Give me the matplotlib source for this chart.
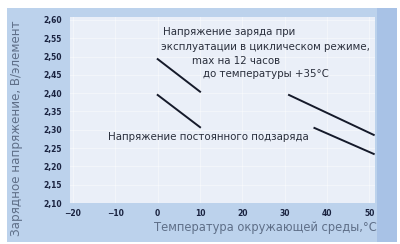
import matplotlib
matplotlib.use("Agg")
import matplotlib.pyplot as plt
from matplotlib.patches import Rectangle

# данные
temp_ticks = [-20, -10, 0, 10, 20, 30, 40, 50]
volt_ticks = [2.10, 2.15, 2.20, 2.25, 2.30, 2.35, 2.40, 2.45, 2.50, 2.55, 2.60]
volt_labels = ["2,10", "2,15", "2,20", "2,25", "2,30", "2,35", "2,40", "2,45", "2,50", "2,55", "2,60"]

# циклический режим
cyc_t1 = [0, 10]
cyc_v1 = [2.493, 2.404]
cyc_t2 = [31, 51]
cyc_v2 = [2.395, 2.286]
# постоянный подзаряд
flt_t1 = [0, 10]
flt_v1 = [2.395, 2.307]
flt_t2 = [37, 51]
flt_v2 = [2.305, 2.234]

fig = plt.figure(figsize=(4.0, 2.44), dpi=100)
fig.patch.set_facecolor("white")

# фоновая голубая подложка
bg = fig.add_axes([0, 0, 1, 1], zorder=-1)
bg.set_xlim(0, 400)
bg.set_ylim(244, 0)
bg.axis("off")
bg.add_patch(Rectangle((7, 8), 390, 234, facecolor="#bcd2ec", edgecolor="none"))
bg.add_patch(Rectangle((377, 8), 20, 234, facecolor="#a8c2e6", edgecolor="none"))

ax = fig.add_axes([70 / 400, 41 / 244, 305 / 400, 186 / 244])
ax.set_facecolor("#eaeff8")
for s in ax.spines.values():
    s.set_visible(False)

ax.set_xlim(-20.7, 51.3)
ax.set_ylim(2.10, 2.608)
ax.set_xticks(temp_ticks)
ax.set_yticks(volt_ticks)
ax.set_yticklabels(volt_labels)
ax.tick_params(length=0, labelsize=5.5, colors="#1a2340", pad=6)
for lbl in ax.get_xticklabels() + ax.get_yticklabels():
    lbl.set_fontweight("bold")
ax.tick_params(axis="x", pad=4)
ax.grid(True, color="white", linewidth=0.6, alpha=0.5)
ax.set_axisbelow(True)

lc = "#151a2a"
ax.plot(cyc_t1, cyc_v1, color=lc, lw=1.4, clip_on=False)
ax.plot(cyc_t2, cyc_v2, color=lc, lw=1.4, clip_on=False)
ax.plot(flt_t1, flt_v1, color=lc, lw=1.4, clip_on=False)
ax.plot(flt_t2, flt_v2, color=lc, lw=1.4, clip_on=False)

tc = "#2a2f3c"
fs = 7.35
ax.text(1.3, 2.567, "Напряжение заряда при", fontsize=fs, color=tc, va="center")
ax.text(0.7, 2.526, "эксплуатации в циклическом режиме,", fontsize=fs, color=tc, va="center")
ax.text(8.0, 2.488, "max на 12 часов", fontsize=fs, color=tc, va="center")
ax.text(10.6, 2.452, "до температуры +35°C", fontsize=fs, color=tc, va="center")
ax.text(-11.7, 2.28, "Напряжение постоянного подзаряда", fontsize=fs, color=tc, va="center")

fig.text(17 / 400, 1 - 128 / 244, "Зарядное напряжение, В/элемент", rotation=90,
         fontsize=8.6, color="#5f6f88", ha="center", va="center")
fig.text(377 / 400, 1 - 228 / 244, "Температура окружающей среды,°C",
         fontsize=8.3, color="#5f6f88", ha="right", va="center")

fig.savefig("out.png", dpi=100)
